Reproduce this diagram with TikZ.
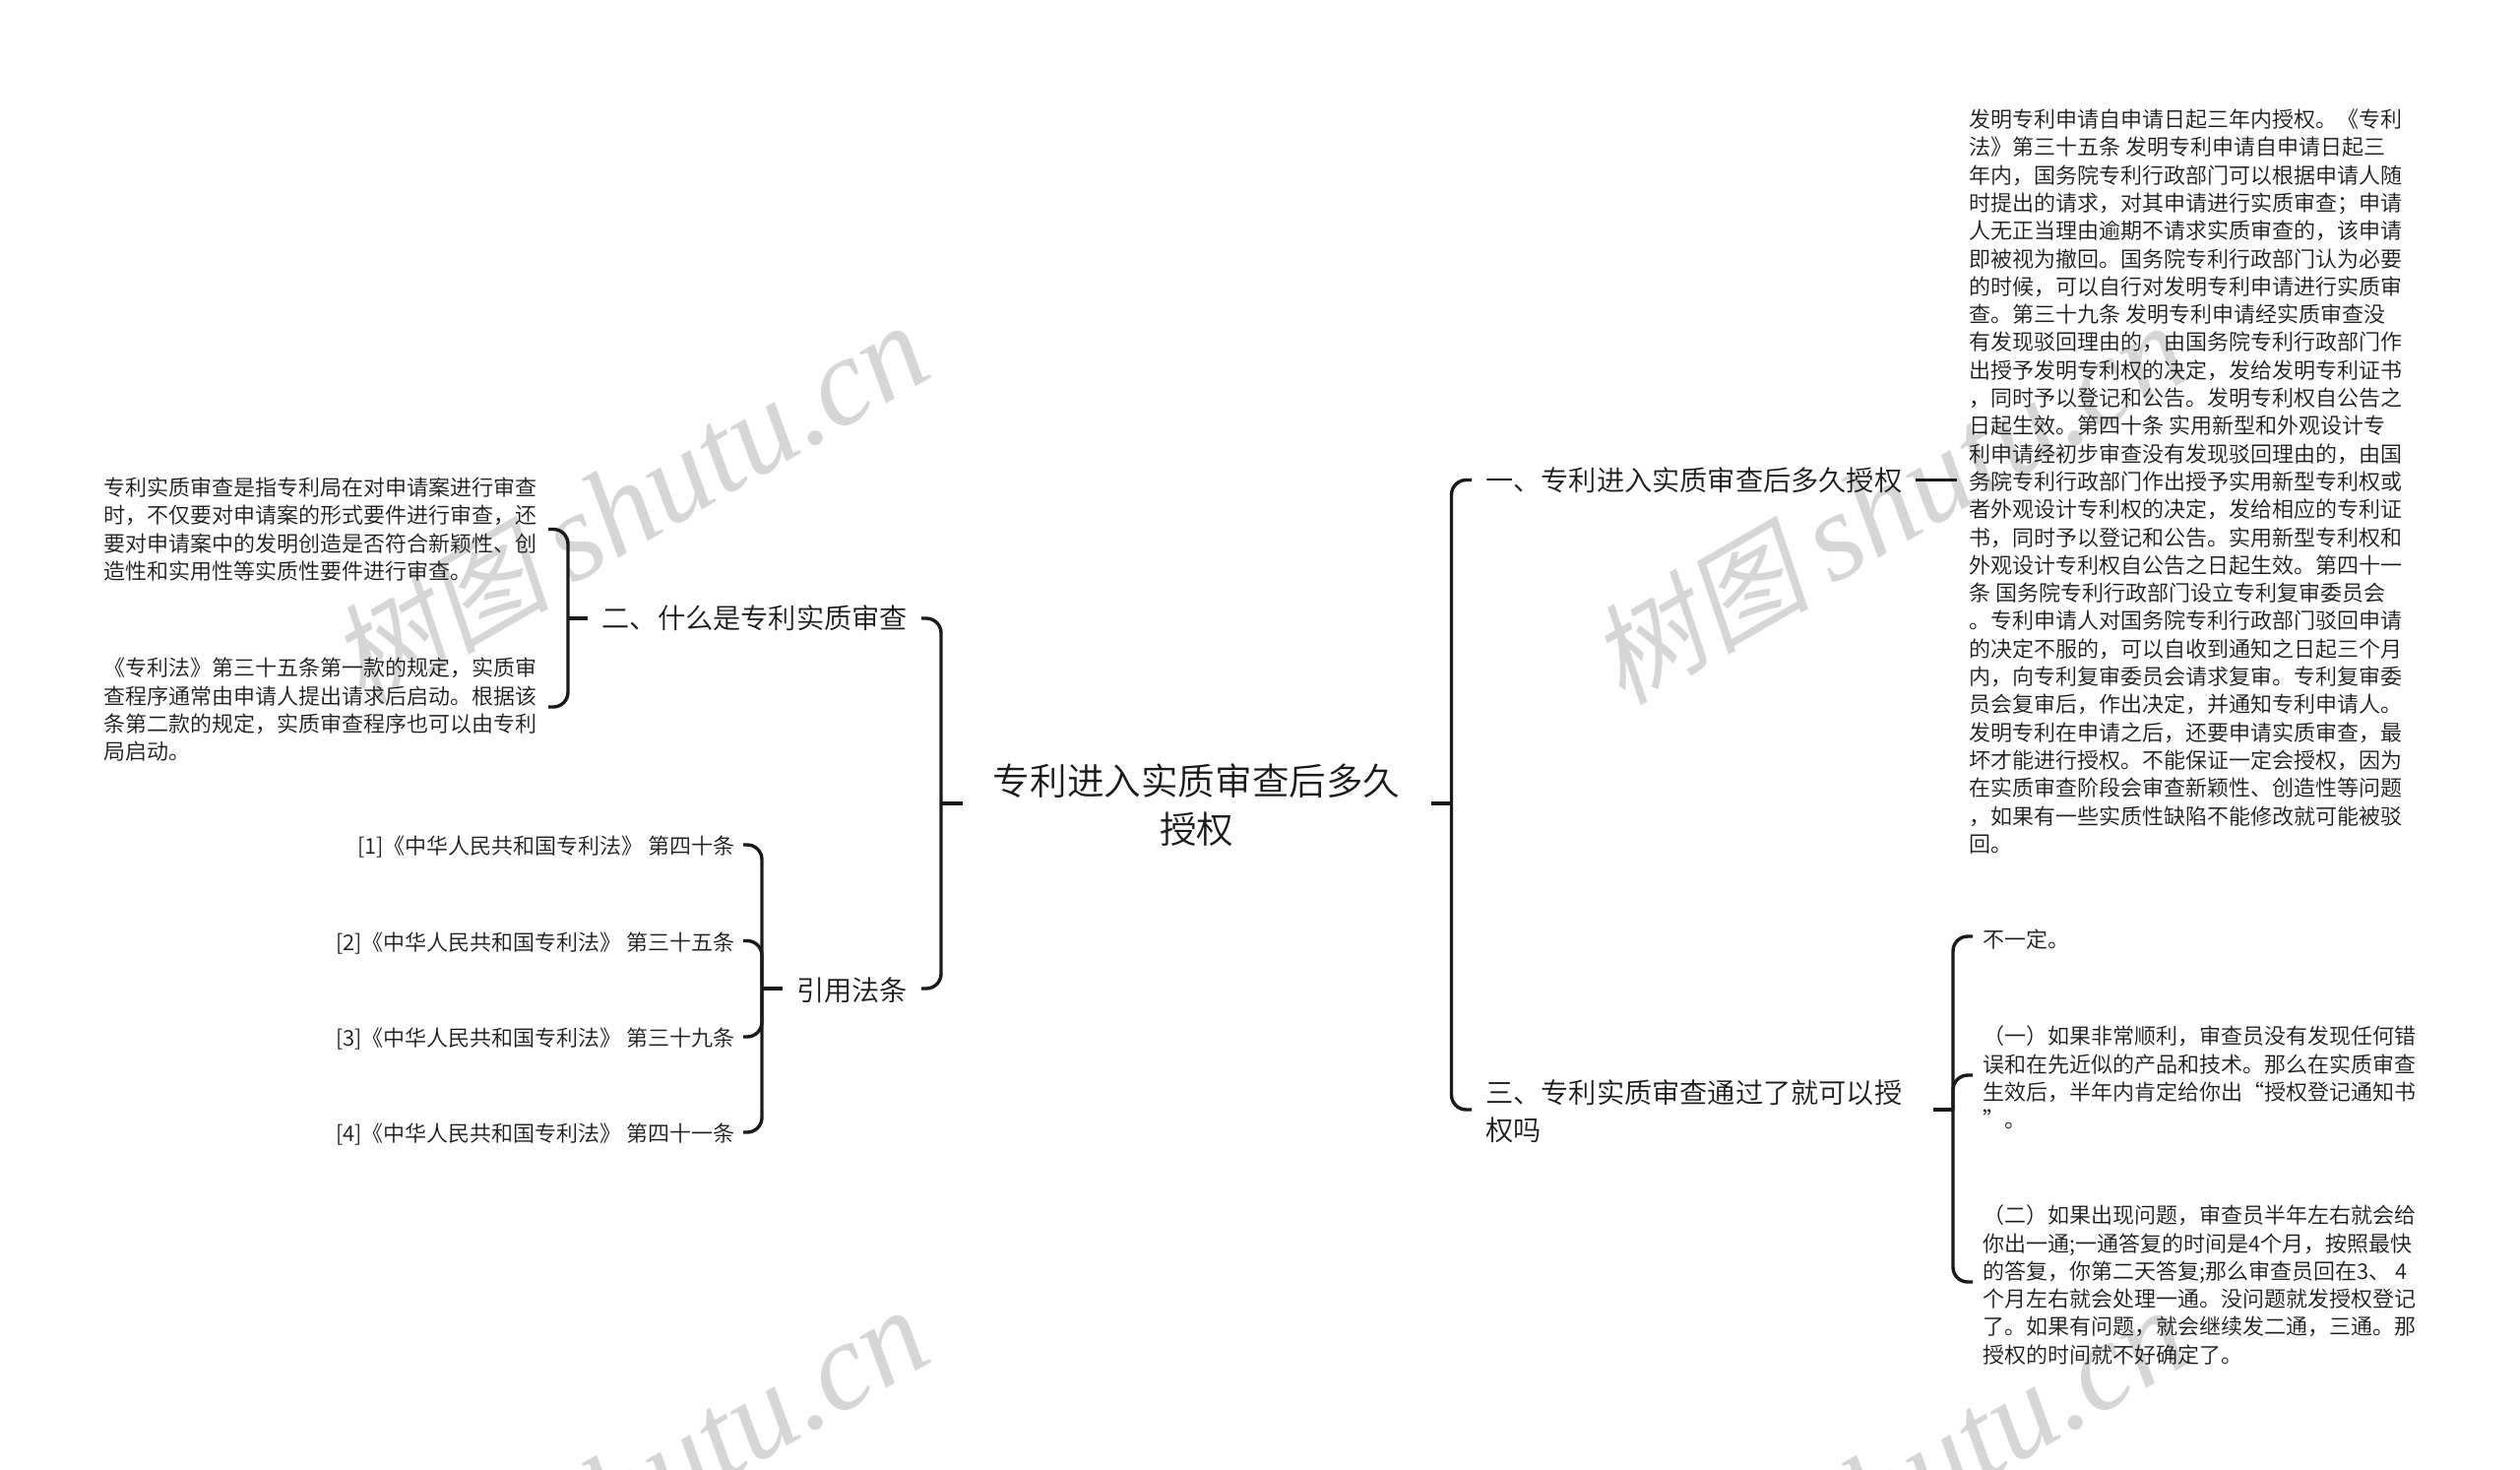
\documentclass[tikz,border=0pt]{standalone}
\usepackage{fontspec}
\setmainfont{Noto Sans CJK SC}[UprightFont=* DemiLight]
\newfontfamily\markcjk[FakeSlant=0.2]{Noto Sans CJK SC}
\newfontfamily\marklatin{Liberation Serif}[UprightFont=* Italic]
\definecolor{inkline}{HTML}{1A1A1A}
\definecolor{inktext}{HTML}{1A1A1A}
\definecolor{markgray}{HTML}{D6D6D6}
\newcommand{\marktext}{{\markcjk\fontsize{112}{120}\selectfont 树图}\hspace{22pt}{\marklatin\fontsize{127}{130}\selectfont shutu.cn}}
\tikzset{
  rootnode/.style={inner xsep=31pt,inner ysep=0pt,align=center,text=inktext,font=\fontsize{37.6}{49}\selectfont},
  branchnode/.style={inner xsep=14pt,inner ysep=0pt,align=left,text=inktext,font=\fontsize{28.2}{38.5}\selectfont},
  leafnode/.style={inner xsep=12pt,inner ysep=0pt,align=left,text=inktext,font=\fontsize{22}{28.3}\selectfont},
  marknode/.style={rotate=30,text=markgray},
  link/.style={draw=inkline,line width=3.4pt},
  fork/.style={link,rounded corners=15pt,to path={|- ([yshift=#1]\tikztotarget)}},
  fork/.default=0pt,
}
\begin{document}
\begin{tikzpicture}[x=1pt,y=-1pt]
\useasboundingbox (0,0) rectangle (2560,1492);

\node (mark1) [marknode] at (639,512) {\marktext};
\node (mark2) [marknode] at (1919,512) {\marktext};
\node (mark3) [marknode] at (639,1512) {\marktext};
\node (mark4) [marknode] at (1919,1512) {\marktext};

\node (root) [rootnode] at (1215.7,817.5) {专利进入实质审查后多久\\授权};

\node (one) [branchnode,anchor=west] at (1495,487.5) {一、专利进入实质审查后多久授权};
\node (three) [branchnode,anchor=west,text width=441pt] at (1495,1128.5) {三、专利实质审查通过了就可以授\\权吗};
\node (two) [branchnode,anchor=east] at (936,628) {二、什么是专利实质审查};
\node (cite) [branchnode,anchor=east] at (936,1005.5) {引用法条};

\node (long) [leafnode,anchor=west] at (1988,489) {发明专利申请自申请日起三年内授权。《专利\\
法》第三十五条 发明专利申请自申请日起三\\
年内，国务院专利行政部门可以根据申请人随\\
时提出的请求，对其申请进行实质审查；申请\\
人无正当理由逾期不请求实质审查的，该申请\\
即被视为撤回。国务院专利行政部门认为必要\\
的时候，可以自行对发明专利申请进行实质审\\
查。第三十九条 发明专利申请经实质审查没\\
有发现驳回理由的，由国务院专利行政部门作\\
出授予发明专利权的决定，发给发明专利证书\\
，同时予以登记和公告。发明专利权自公告之\\
日起生效。第四十条 实用新型和外观设计专\\
利申请经初步审查没有发现驳回理由的，由国\\
务院专利行政部门作出授予实用新型专利权或\\
者外观设计专利权的决定，发给相应的专利证\\
书，同时予以登记和公告。实用新型专利权和\\
外观设计专利权自公告之日起生效。第四十一\\
条 国务院专利行政部门设立专利复审委员会\\
。专利申请人对国务院专利行政部门驳回申请\\
的决定不服的，可以自收到通知之日起三个月\\
内，向专利复审委员会请求复审。专利复审委\\
员会复审后，作出决定，并通知专利申请人。\\
发明专利在申请之后，还要申请实质审查，最\\
坏才能进行授权。不能保证一定会授权，因为\\
在实质审查阶段会审查新颖性、创造性等问题\\
，如果有一些实质性缺陷不能修改就可能被驳\\
回。};

\node (threea) [leafnode,inner xsep=10pt,anchor=west] at (2004,954) {不一定。};
\node (threeb) [leafnode,inner xsep=10pt,anchor=west] at (2004,1094.5) {（一）如果非常顺利，审查员没有发现任何错\\
误和在先近似的产品和技术。那么在实质审查\\
生效后，半年内肯定给你出“授权登记通知书\\
”。};
\node (threec) [leafnode,inner xsep=10pt,anchor=west] at (2004,1305) {（二）如果出现问题，审查员半年左右就会给\\
你出一通;一通答复的时间是4个月，按照最快\\
的答复，你第二天答复;那么审查员回在3、 4\\
个月左右就会处理一通。没问题就发授权登记\\
了。如果有问题，就会继续发二通，三通。那\\
授权的时间就不好确定了。};

\node (twoa) [leafnode,inner xsep=11.5pt,anchor=east] at (557,537.5) {专利实质审查是指专利局在对申请案进行审查\\
时，不仅要对申请案的形式要件进行审查，还\\
要对申请案中的发明创造是否符合新颖性、创\\
造性和实用性等实质性要件进行审查。};
\node (twob) [leafnode,inner xsep=11.5pt,anchor=east] at (557,721) {《专利法》第三十五条第一款的规定，实质审\\
查程序通常由申请人提出请求后启动。根据该\\
条第二款的规定，实质审查程序也可以由专利\\
局启动。};

\node (cite1) [leafnode,inner xsep=8pt,anchor=east] at (755,860.5) {[1]《中华人民共和国专利法》 第四十条};
\node (cite2) [leafnode,inner xsep=8pt,anchor=east] at (755,958) {[2]《中华人民共和国专利法》 第三十五条};
\node (cite3) [leafnode,inner xsep=8pt,anchor=east] at (755,1055.5) {[3]《中华人民共和国专利法》 第三十九条};
\node (cite4) [leafnode,inner xsep=8pt,anchor=east] at (755,1152.5) {[4]《中华人民共和国专利法》 第四十一条};

\coordinate (rootr) at (1474.5,816);
\coordinate (rootl) at (956,816);
\coordinate (threet) at (1984,1127);
\coordinate (twot) at (577,628);
\coordinate (citet) at (774,1004);

\path [link] (rootr) edge (rootr -| root.east);
\path [link] (rootl) edge (rootl -| root.west);
\path [fork] (rootr) edge (one.west);
\path [fork=1.5pt] (rootr) edge (three.west);
\path [fork] (rootl) edge (two.east);
\path [fork=1.5pt] (rootl) edge (cite.east);

\path [link] (one.east) edge (one.east -| long.west);
\path [link] (threet) edge (threet -| three.east);
\path [fork=3pt] (threet) edge (threea.west);
\path [fork=2.5pt] (threet) edge (threeb.west);
\path [fork=3pt] (threet) edge (threec.west);

\path [link] (two.west) edge (twot);
\path [fork] (twot) edge (twoa.east);
\path [fork=3pt] (twot) edge (twob.east);

\path [link] (citet) edge (citet -| cite.west);
\path [fork=2.5pt] (citet) edge (cite1.east);
\path [fork=2.5pt] (citet) edge (cite2.east);
\path [fork=2.5pt] (citet) edge (cite3.east);
\path [fork=2.5pt] (citet) edge (cite4.east);
\end{tikzpicture}
\end{document}
